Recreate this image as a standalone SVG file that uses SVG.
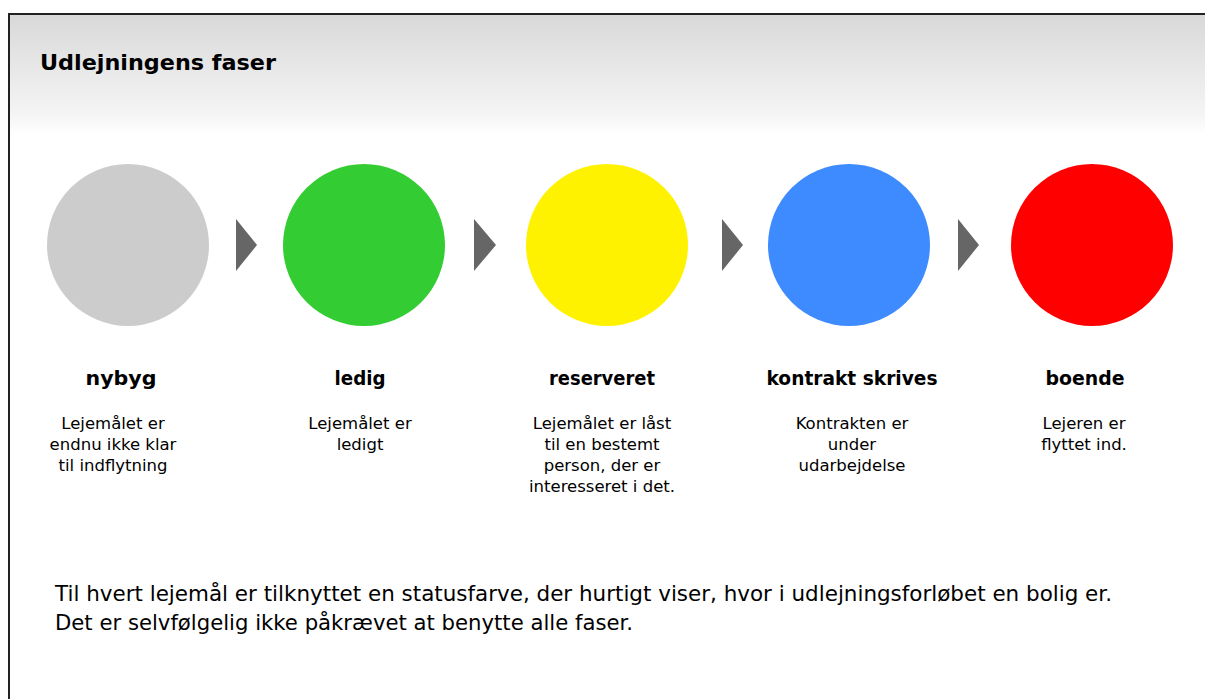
<svg xmlns="http://www.w3.org/2000/svg" width="1205" height="699" viewBox="0 0 1205 699">
<defs>
<linearGradient id="hdr" x1="0" y1="0" x2="0" y2="1">
<stop offset="0" stop-color="#d8d8d8"/>
<stop offset="0.85" stop-color="#f5f5f5"/>
<stop offset="1" stop-color="#ffffff"/>
</linearGradient>
</defs>
<style>
text{font-family:"DejaVu Sans",sans-serif;fill:#000}
.t{font-size:22px;font-weight:bold}
.h{font-size:19.5px;font-weight:bold;text-anchor:middle}
.d{font-size:16.5px;text-anchor:middle}
.b{font-size:21px}
.arr{fill:#666666}
</style>
<rect x="0" y="0" width="1205" height="699" fill="#ffffff"/>
<rect x="9" y="14" width="1200" height="120" fill="url(#hdr)"/>
<path d="M9,705 V14 H1210" fill="none" stroke="#222" stroke-width="2"/>
<text class="t" x="40" y="70" textLength="236" lengthAdjust="spacingAndGlyphs">Udlejningens faser</text>
<g id="connectors">
<polygon class="arr" points="236,219 257,245 236,271"/>
<polygon class="arr" points="474,219 496,245 474,271"/>
<polygon class="arr" points="722,219 743,245 722,271"/>
<polygon class="arr" points="958,219 979,245 958,271"/>
</g>
<g id="nybyg">
<circle cx="128" cy="245" r="81" fill="#cccccc"/>
<text class="h" x="121" y="385" textLength="71" lengthAdjust="spacingAndGlyphs">nybyg</text>
<text class="d" x="113" y="429">Lejemålet er</text>
<text class="d" x="113" y="450">endnu ikke klar</text>
<text class="d" x="113" y="471">til indflytning</text>
</g>
<g id="ledig">
<circle cx="364" cy="245" r="81" fill="#33cc33"/>
<text class="h" x="360" y="385" textLength="51" lengthAdjust="spacingAndGlyphs">ledig</text>
<text class="d" x="360" y="429">Lejemålet er</text>
<text class="d" x="360" y="450">ledigt</text>
</g>
<g id="reserveret">
<circle cx="607" cy="245" r="81" fill="#fff200"/>
<text class="h" x="602" y="385" textLength="106" lengthAdjust="spacingAndGlyphs">reserveret</text>
<text class="d" x="602" y="429">Lejemålet er låst</text>
<text class="d" x="602" y="450">til en bestemt</text>
<text class="d" x="602" y="471">person, der er</text>
<text class="d" x="602" y="492">interesseret i det.</text>
</g>
<g id="kontrakt">
<circle cx="849" cy="245" r="81" fill="#3d8bff"/>
<text class="h" x="852" y="385" textLength="171" lengthAdjust="spacingAndGlyphs">kontrakt skrives</text>
<text class="d" x="852" y="429">Kontrakten er</text>
<text class="d" x="852" y="450">under</text>
<text class="d" x="852" y="471">udarbejdelse</text>
</g>
<g id="boende">
<circle cx="1092" cy="245" r="81" fill="#ff0000"/>
<text class="h" x="1085" y="385" textLength="79" lengthAdjust="spacingAndGlyphs">boende</text>
<text class="d" x="1084" y="429">Lejeren er</text>
<text class="d" x="1084" y="450">flyttet ind.</text>
</g>
<text class="b" x="55" y="601" textLength="1057" lengthAdjust="spacingAndGlyphs">Til hvert lejemål er tilknyttet en statusfarve, der hurtigt viser, hvor i udlejningsforløbet en bolig er.</text>
<text class="b" x="55" y="630" textLength="578" lengthAdjust="spacingAndGlyphs">Det er selvfølgelig ikke påkrævet at benytte alle faser.</text>
</svg>
